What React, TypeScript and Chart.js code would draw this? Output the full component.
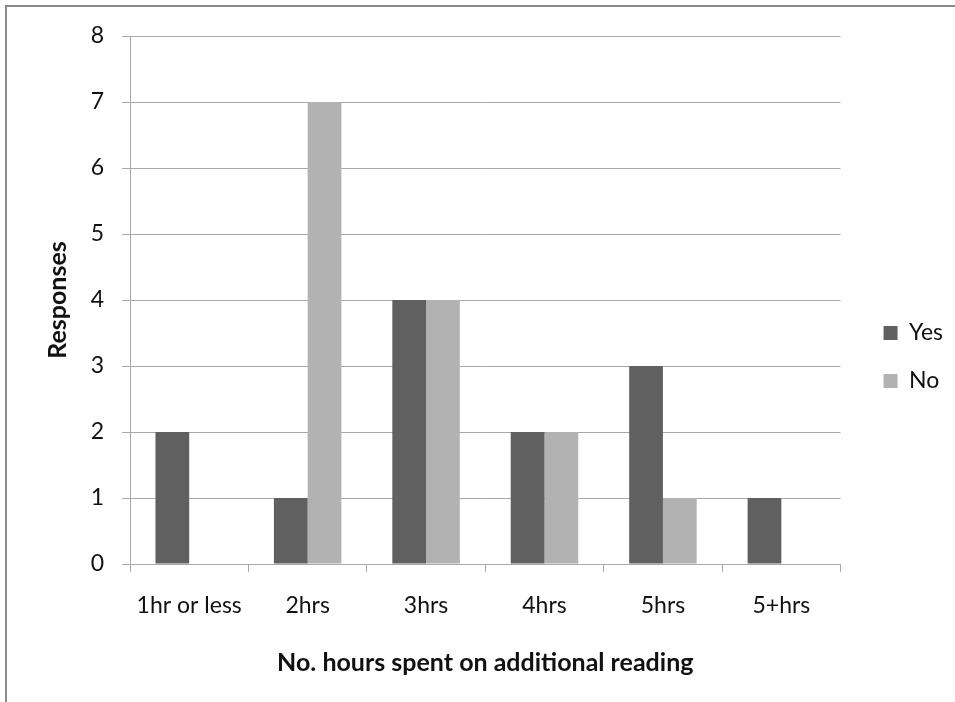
import React, { useEffect, useRef } from "react";
import { Chart, registerables } from "chart.js";

Chart.register(...registerables);

// Hours spent on additional reading, split by response
const categories = ["1hr or less", "2hrs", "3hrs", "4hrs", "5hrs", "5+hrs"];
const yesValues = [2, 1, 4, 2, 3, 1];
const noValues = [0, 7, 4, 2, 1, 0];
const yTicks = [0, 1, 2, 3, 4, 5, 6, 7, 8];

const FONT = "Lato, 'DejaVu Sans', sans-serif";
const GRID = "#a8a8a8";
const TEXT = "#111";

export default function App() {
  const canvasRef = useRef<HTMLCanvasElement | null>(null);

  useEffect(() => {
    if (!canvasRef.current) return;
    const chart = new Chart(canvasRef.current, {
      type: "bar",
      data: {
        labels: categories,
        datasets: [
          { label: "Yes", data: yesValues, backgroundColor: "#606060", borderWidth: 0 },
          { label: "No", data: noValues, backgroundColor: "#b2b2b2", borderWidth: 0 },
        ],
      },
      options: {
        responsive: false,
        animation: false,
        devicePixelRatio: 1,
        layout: { padding: { top: 36, left: 0, right: 2, bottom: 24 } },
        datasets: { bar: { categoryPercentage: 0.57, barPercentage: 1 } },
        plugins: {
          legend: {
            position: "right",
            align: "center",
            labels: {
              boxWidth: 14,
              boxHeight: 14,
              padding: 25,
              color: TEXT,
              font: { family: FONT, size: 23 },
            },
          },
          tooltip: { enabled: false },
        },
        scales: {
          x: {
            offset: true,
            grid: {
              offset: true,
              drawOnChartArea: false,
              drawTicks: true,
              tickLength: 8,
              color: GRID,
            },
            border: { color: GRID },
            ticks: {
              color: TEXT,
              padding: 20,
              maxRotation: 0,
              font: { family: FONT, size: 23 },
            },
            title: {
              display: true,
              text: "No. hours spent on additional reading",
              color: TEXT,
              font: { family: FONT, size: 25, weight: "bold" },
              padding: { top: 0, bottom: 0 },
            },
            afterFit: (s: any) => {
              s.height = 114;
            },
          },
          y: {
            min: 0,
            max: 8,
            afterBuildTicks: (s: any) => {
              s.ticks = yTicks.map((v) => ({ value: v }));
            },
            grid: { color: GRID, tickLength: 8 },
            border: { color: GRID },
            ticks: {
              color: TEXT,
              padding: 18,
              font: { family: FONT, size: 23 },
            },
            title: {
              display: true,
              text: "Responses",
              color: TEXT,
              font: { family: FONT, size: 25, weight: "bold" },
              padding: { top: 43, bottom: 0 },
            },
            afterFit: (s: any) => {
              s.width = 130;
            },
          },
          gap: {
            position: "right",
            display: true,
            grid: { display: false },
            border: { display: false },
            ticks: { display: false },
            afterFit: (s: any) => {
              s.width = 18;
            },
          },
        },
      },
    });
    return () => chart.destroy();
  }, []);

  return (
    <div
      style={{
        position: "absolute",
        left: 0,
        top: 0,
        width: 955,
        height: 702,
        background: "#fff",
        overflow: "hidden",
      }}
    >
      <div
        style={{
          position: "absolute",
          left: 5,
          top: 5,
          width: 980,
          height: 720,
          borderLeft: "2px solid #8a8a8a",
          borderTop: "2px solid #8a8a8a",
        }}
      />
      <canvas
        ref={canvasRef}
        width={955}
        height={702}
        style={{ position: "absolute", left: 0, top: 0 }}
      />
    </div>
  );
}
